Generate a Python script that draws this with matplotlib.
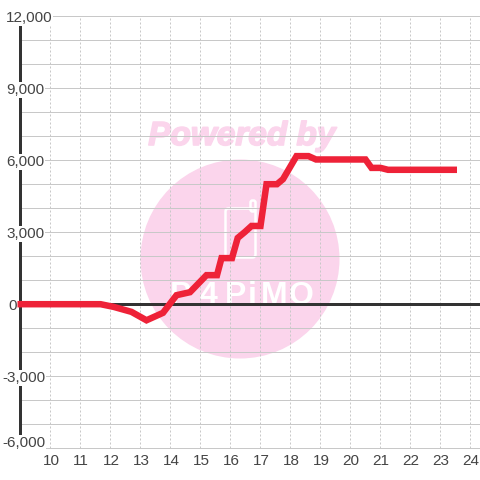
import matplotlib
matplotlib.use('Agg')
import matplotlib.pyplot as plt
import matplotlib.patheffects as pe
from matplotlib.patches import Circle, FancyBboxPatch
from matplotlib.transforms import Affine2D

# Values
hours = [8.9, 11.67, 12.1, 12.7, 13.2, 13.75, 14.2, 14.65, 15.2, 15.55, 15.7, 16.05, 16.24,
         16.48, 16.7, 17.0, 17.2, 17.55, 17.75, 18.2, 18.6, 18.85, 20.5, 20.7, 21.0, 21.25, 23.55]
values = [0, 0, -110, -320, -670, -360, 375, 500, 1210, 1210, 1920, 1920, 2760,
          3010, 3260, 3260, 5000, 5000, 5210, 6170, 6170, 6030, 6030, 5680, 5680, 5600, 5600]
x_ticks = list(range(10, 25))
y_ticks = [12000, 9000, 6000, 3000, 0, -3000, -6000]
y_grid = list(range(-6000, 12001, 1000))

plt.rcParams['font.family'] = ['Liberation Sans', 'DejaVu Sans']
PX = 0.72  # one pixel in points at dpi 100

fig = plt.figure(figsize=(4.8, 4.8), dpi=100)
ax = fig.add_axes([0, 0, 1, 1])
ax.set_xlim(8.3167, 24.3167)
ax.set_ylim(-7325, 12675)
ax.axis('off')

# Watermark is placed in pixels from the top left corner
px = Affine2D().scale(1, -1).translate(0, 480)
pink = '#fbd5ec'
ax.add_patch(Circle((240, 259), 99.5, color=pink, lw=0, transform=px, zorder=1))
ax.text(242, 145, 'Powered by', color=pink, fontsize=24, fontweight='bold', fontstyle='italic',
        ha='center', va='baseline', transform=px, zorder=1,
        path_effects=[pe.withStroke(linewidth=1.2, foreground=pink)])
ax.add_patch(FancyBboxPatch((227, 210), 27, 46, boxstyle='round,pad=1.5,rounding_size=3', fc='none',
                            ec='white', lw=2.5 * PX, transform=px, zorder=1.5))
ax.add_patch(FancyBboxPatch((251, 201), 4, 10, boxstyle='round,pad=0.5,rounding_size=2', fc='none',
                            ec='white', lw=2.5 * PX, transform=px, zorder=1.5))
for letter, lx in zip('P4PiMO', [181, 208, 236, 252, 274, 301]):
    ax.text(lx, 304, letter, color='white', fontsize=23, fontweight='bold',
            ha='center', va='baseline', transform=px, zorder=1.5)

# Grid
ax.hlines(y_grid, 9, 24.3167, color='#c8c8c8', lw=1 * PX, zorder=2)
ax.vlines(x_ticks, -6000, 12000, color='#c8c8c8', lw=1 * PX, linestyles=(0, (2, 2)), zorder=2)

# Axis lines
ax.vlines(9, -6000, 12000, color='#333333', lw=3 * PX, zorder=3)
ax.hlines(0, 9, 24.3167, color='#333333', lw=3 * PX, zorder=3)

# Series
ax.plot(hours, values, color='#ee2238', lw=6.5 * PX, solid_joinstyle='miter',
        solid_capstyle='butt', zorder=5)

# Tick labels, white boxes cut the axis line and grid
for v in y_ticks:
    label = f'{v:,}'
    if v == 0:
        ax.text(8, 176, label, ha='left', va='center_baseline', color='#444444', fontsize=11, zorder=4,
                transform=Affine2D(), bbox=dict(fc='white', ec='none', pad=0.5))
    else:
        left = 2 if v < 0 else 6
        from_top = min((12687.5 - v) / 1000 * 24, 441.5)
        ax.text(left, 480 - from_top, label, ha='left', va='center_baseline',
                color='#444444', fontsize=11, zorder=4,
                transform=Affine2D(), bbox=dict(fc='white', ec='none', pad=0.5))
for h in x_ticks:
    ax.annotate(str(h), (h, -6000), xytext=(0.5, -13), textcoords='offset pixels', ha='center', va='center',
                color='#444444', fontsize=11, zorder=4)

fig.savefig('out.png', dpi=100)
